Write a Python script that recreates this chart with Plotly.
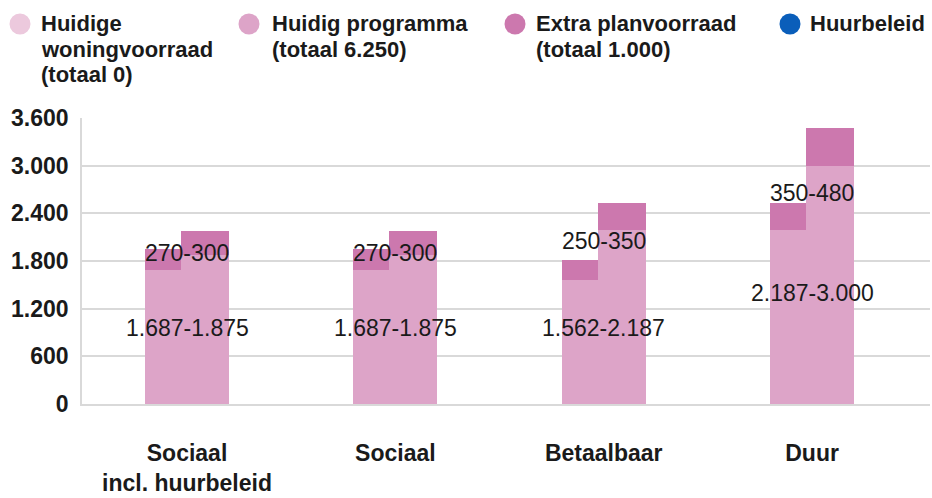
import plotly.graph_objects as go

# ---- data -------------------------------------------------------------
categories = ["Sociaal<br>incl. huurbeleid", "Sociaal", "Betaalbaar", "Duur"]
programma_min = [1687, 1687, 1562, 2187]   # Huidig programma, lower bound
programma_max = [1875, 1875, 2187, 3000]   # Huidig programma, upper bound
extra_min = [270, 270, 250, 350]           # Extra planvoorraad, lower bound
extra_max = [300, 300, 350, 480]           # Extra planvoorraad, upper bound
y_ticks = [0, 600, 1200, 1800, 2400, 3000, 3600]

legend_names = [
    ["Huidige", "woningvoorraad", "(totaal 0)"],
    ["Huidig programma", "(totaal 6.250)"],
    ["Extra planvoorraad", "(totaal 1.000)"],
    ["Huurbeleid"],
]

# ---- styling / layout constants ----------------------------------------
C_VOORRAAD = "#ECC9DD"
C_PROGRAMMA = "#DDA4C8"
C_EXTRA = "#CC78AE"
C_HUUR = "#0A5EBA"
C_TEXT = "#1A1A1A"
C_GRID = "#D9D9D9"
legend_colors = [C_VOORRAAD, C_PROGRAMMA, C_EXTRA, C_HUUR]

W, H = 932, 498
PLOT_L, PLOT_R, PLOT_T, PLOT_B = 82, 930, 118, 404
BAR_W = 0.23
BAR_OFF = 0.0863

FONT = "Liberation Sans, Arial, Helvetica, sans-serif"

# label anchor heights (data units) for the range labels
upper_label_y = [1905, 1905, 2050, 2660]
lower_label_y = [960, 960, 960, 1400]

# legend placement in pixels: circle centre x, text left x, line centres y
legend_circle_x = [20, 249, 515, 790]
legend_text_x = [39, 270, 534, 808]
legend_line_y = [24, 49.5, 75]
LEGEND_R = 10.5


def xp(px):
    return (px - PLOT_L) / (PLOT_R - PLOT_L)


def yp(py):
    return (PLOT_B - py) / (PLOT_B - PLOT_T)


def fmt(v):
    return f"{v:,}".replace(",", ".")


idx = list(range(len(categories)))
left_x = [i - BAR_OFF for i in idx]
right_x = [i + BAR_OFF for i in idx]

fig = go.Figure()

# lower-bound column (left), then upper-bound column (right) drawn over it
fig.add_trace(go.Bar(x=left_x, y=programma_min, width=BAR_W,
                     marker=dict(color=C_PROGRAMMA, line=dict(width=0)),
                     name="Huidig programma", showlegend=False))
fig.add_trace(go.Bar(x=left_x, y=extra_min, base=programma_min, width=BAR_W,
                     marker=dict(color=C_EXTRA, line=dict(width=0)),
                     name="Extra planvoorraad", showlegend=False))
fig.add_trace(go.Bar(x=right_x, y=programma_max, width=BAR_W,
                     marker=dict(color=C_PROGRAMMA, line=dict(width=0)),
                     name="Huidig programma", showlegend=False))
fig.add_trace(go.Bar(x=right_x, y=extra_max, base=programma_max, width=BAR_W,
                     marker=dict(color=C_EXTRA, line=dict(width=0)),
                     name="Extra planvoorraad", showlegend=False))

annotations = []
# range labels on the bars
for i in idx:
    annotations.append(dict(
        x=i, y=upper_label_y[i], xref="x", yref="y",
        text=f"{fmt(extra_min[i])}-{fmt(extra_max[i])}",
        showarrow=False, xanchor="center", yanchor="middle",
        font=dict(family=FONT, size=23, color=C_TEXT)))
    annotations.append(dict(
        x=i, y=lower_label_y[i], xref="x", yref="y",
        text=f"{fmt(programma_min[i])}-{fmt(programma_max[i])}",
        showarrow=False, xanchor="center", yanchor="middle",
        font=dict(family=FONT, size=23, color=C_TEXT)))

# legend: circles with multi-line captions
shapes = []
for k, lines in enumerate(legend_names):
    shapes.append(dict(
        type="circle", xref="paper", yref="paper",
        xsizemode="pixel", ysizemode="pixel",
        xanchor=xp(legend_circle_x[k]), yanchor=yp(legend_line_y[0]),
        x0=-LEGEND_R, x1=LEGEND_R, y0=-LEGEND_R, y1=LEGEND_R,
        fillcolor=legend_colors[k], line=dict(width=0)))
    for j, line in enumerate(lines):
        annotations.append(dict(
            x=xp(legend_text_x[k]), y=yp(legend_line_y[j]),
            xref="paper", yref="paper", text=line, showarrow=False,
            xanchor="left", yanchor="middle", align="left",
            font=dict(family=FONT, size=22, color=C_TEXT, weight="bold")))

fig.update_layout(
    width=W, height=H,
    margin=dict(l=PLOT_L, r=W - PLOT_R, t=PLOT_T, b=H - PLOT_B),
    paper_bgcolor="white", plot_bgcolor="white",
    barmode="overlay", bargap=0,
    separators=",.",
    showlegend=False,
    annotations=annotations,
    shapes=shapes,
    xaxis=dict(
        range=[-0.504, 3.566],
        tickvals=idx, ticktext=categories,
        showgrid=False, zeroline=False,
        showline=True, linecolor=C_GRID, linewidth=1.5,
        ticks="", ticklabelstandoff=28,
        tickfont=dict(family=FONT, size=23, color=C_TEXT, weight="bold"),
    ),
    yaxis=dict(
        range=[0, 3601],
        tickvals=y_ticks, tickformat=",d",
        showgrid=True, gridcolor=C_GRID, gridwidth=1.5,
        zeroline=False,
        showline=True, linecolor=C_GRID, linewidth=1.5,
        ticks="", ticklabelstandoff=7,
        tickfont=dict(family=FONT, size=23, color=C_TEXT, weight="bold"),
    ),
)

fig.write_html("out.html")
